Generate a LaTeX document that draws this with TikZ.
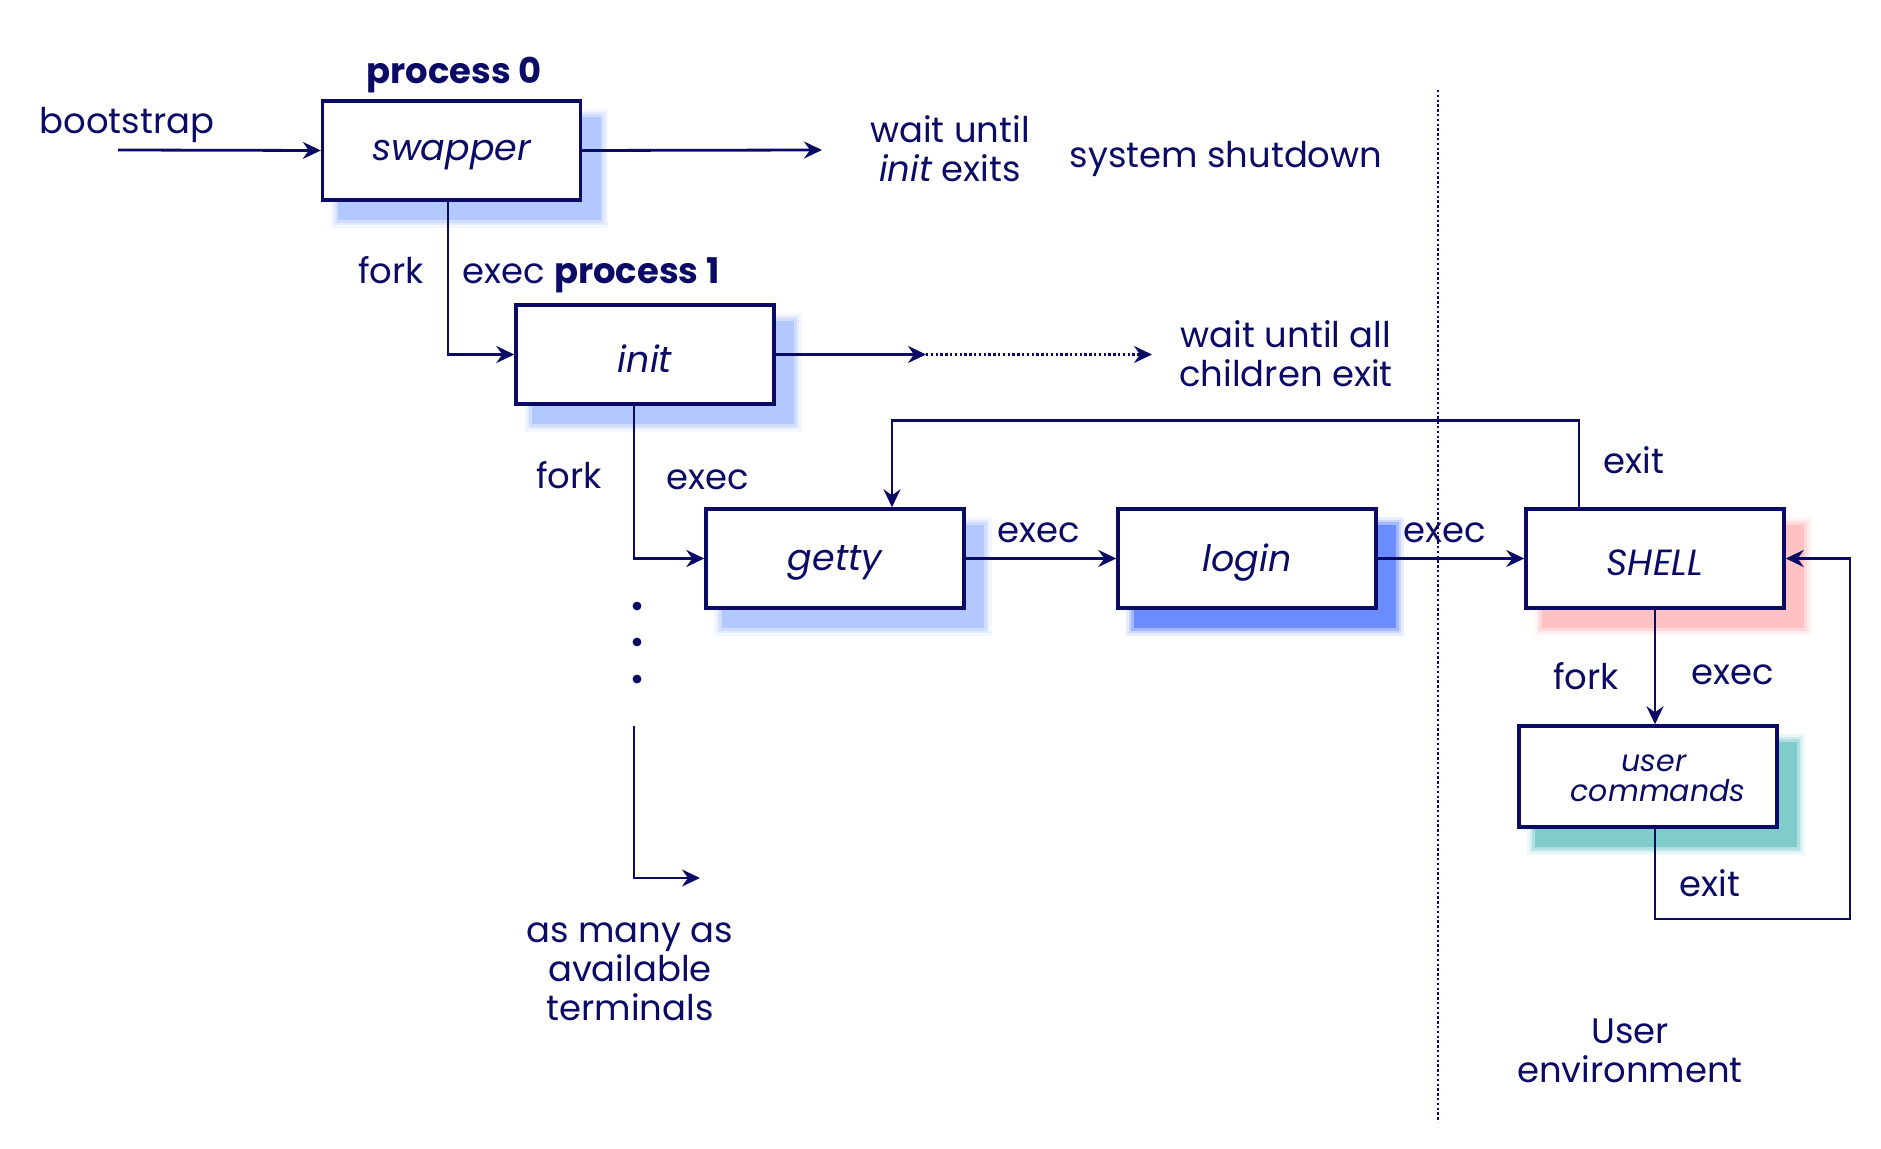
\documentclass[tikz,border=0pt]{standalone}
\usepackage{fontspec}
\setmainfont{Poppins}
\usetikzlibrary{arrows.meta,calc,backgrounds}
\definecolor{navy}{HTML}{0B0B66}
\definecolor{shblue}{HTML}{B3C8FF}
\definecolor{shdeep}{HTML}{6A8CFF}
\definecolor{shpink}{HTML}{FFC2C2}
\definecolor{shteal}{HTML}{80CCCC}
\newcommand\procshadow[2]{%
  \foreach \e/\o in {8/0.15,5.5/0.25,3/0.4,0.5/1}{%
    \fill[#2,opacity=\o] ($(#1.north west)+(18-\e,18-\e)$) rectangle ($(#1.south east)+(18+\e,18+\e)$);}}
\newcommand\bt[1]{\raisebox{-2.2pt}[\height][\depth]{#1}}
\tikzset{
  proc/.style={draw=navy, line width=1.7pt, fill=white, minimum width=129pt, minimum height=49.5pt, inner sep=0pt, font=\fontsize{18.2}{21}\selectfont\itshape},
  lbl/.style={inner sep=0pt, align=center},
  conn/.style={draw=navy, line width=1.4pt},
  arr/.style={conn, -{Stealth[length=9pt,width=8.5pt,inset=3pt]}},
  dotline/.style={draw=navy, line width=1.2pt, dash pattern=on 1.2pt off 1.2pt},
}
\begin{document}
\begin{tikzpicture}[x=0.5pt,y=-0.5pt, font=\fontsize{17.7}{19.5}\selectfont, text=navy]
\useasboundingbox (0,0) rectangle (1881,1149);

% boxes
\node[proc] (swapper) at (451.5,150.5) {\bt{swapper}};
\node[proc] (init) at (645,354.5) {\bt{init}};
\node[proc] (getty) at (835,558.5) {\bt{getty}};
\node[proc] (login) at (1247,558.5) {\bt{login}};
\node[proc] (shell) at (1655,558.5) {\bt{SHELL}};
\node[proc, minimum height=50.5pt, font=\fontsize{15}{14.5}\selectfont\itshape] (uc) at (1648,776.5) {\bt{\hspace*{10pt}\begin{tabular}{@{}c@{}}user\hspace*{4pt}\\[-0.5pt] commands\end{tabular}}};

\begin{scope}[on background layer]
  \procshadow{swapper}{shblue}
  \procshadow{init}{shblue}
  \procshadow{getty}{shblue}
  \procshadow{login}{shdeep}
  \procshadow{shell}{shpink}
  \procshadow{uc}{shteal}
\end{scope}

% labels
\node[lbl, font=\fontsize{17.7}{19.5}\selectfont\bfseries] (p0) at (454,75) {process 0};
\node[lbl] (boot) at (127,125) {bootstrap};
\node[lbl] (wi) at (950,149) {wait until\\ \textit{init} exits};
\node[lbl] (sd) at (1226,159) {system shutdown};
\node[lbl] (f1) at (391,270) {fork};
\node[lbl, anchor=west] (e1) at (462,275) {exec \textbf{process 1}};
\node[lbl] (wa) at (1286,354) {wait until all\\ children exit};
\node[lbl] (f2) at (569,475) {fork};
\node[lbl] (e2) at (708,480) {exec};
\node[lbl] (e3) at (1039,533) {exec};
\node[lbl] (e4) at (1445,533) {exec};
\node[lbl] (x1) at (1634,460) {exit};
\node[lbl] (f3) at (1586,676) {fork};
\node[lbl] (e5) at (1733,675) {exec};
\node[lbl] (x2) at (1710,883) {exit};
\node[lbl] (term) at (630,972) {as many as\\ available\\ terminals};
\node[lbl] (uenv) at (1630,1051) {User\\ environment};

% free ends
\coordinate (bs) at (118,150);
\coordinate (w0) at (822,150);
\coordinate (d1) at (926,354.5);
\coordinate (d2) at (1152,354.5);
\coordinate (v0) at (1438,90);
\coordinate (v1) at (1438,1122);
\coordinate (t0) at (634,726);
\coordinate (t1) at (700,878);
\coordinate (loopr) at (1850,919);

% connectors
\draw[arr] (bs) -- (swapper.west);
\draw[arr] (swapper.east) -- (w0);
\draw[arr] ([xshift=-1.75pt]swapper.south) |- (init.west);
\draw[arr] (init.east) -- (d1);
\draw[dotline, -{Stealth[length=9pt,width=8.5pt,inset=3pt]}] (d1) -- (d2);
\draw[arr] ([xshift=-5.5pt]init.south) |- (getty.west);
\draw[arr] (getty.east) -- (login.west);
\draw[arr] (login.east) -- (shell.west);
\draw[arr] ([xshift=-38pt]shell.north) -- ++(0,-87) -| ([xshift=28.5pt]getty.north);
\draw[arr] (shell.south) -- (shell.south |- uc.north);
\draw[arr] (uc.south -| shell.south) |- (loopr) |- (shell.east);
\draw[arr] (t0) |- (t1);
\draw[dotline] (v0) -- (v1);

% dots
\foreach \yy [count=\i] in {606,642,679}
  \fill[navy] (637,\yy) circle (2.2pt);
\end{tikzpicture}
\end{document}
